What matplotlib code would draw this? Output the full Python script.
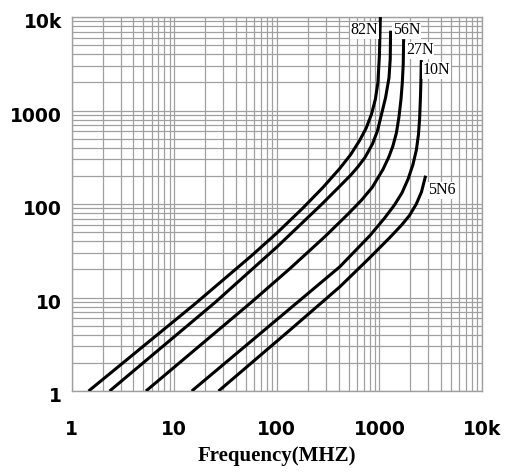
import matplotlib
matplotlib.use("Agg")
import matplotlib.pyplot as plt
from matplotlib.ticker import FixedLocator, LogLocator, NullFormatter
from matplotlib.transforms import ScaledTranslation

# Curve data (frequency MHz, impedance)
x_82n = [1.46, 15.8, 57, 100, 180, 282, 410, 525, 641, 741, 836, 912, 966, 1000, 1021]
y_82n = [1.0, 8.5, 28.2, 49, 91, 151, 240, 339, 479, 646, 912, 1318, 1995, 3981, 10000]

x_56n = [2.34, 25.1, 100, 275, 410, 525, 618, 724, 853, 955, 1069, 1148, 1239, 1274, 1285]
y_56n = [1.0, 8.9, 34.7, 100, 155, 204, 251, 316, 437, 603, 1000, 1380, 2239, 3548, 7145]

x_27n = [5.29, 57, 134, 293, 501, 668, 851, 1081, 1230, 1352, 1462, 1549, 1622, 1671, 1706, 1722]
y_27n = [1.0, 9.0, 20.4, 44.7, 79.4, 110, 151, 234, 316, 417, 575, 851, 1318, 1995, 3162, 5808]

x_10n = [14.8, 73.4, 410, 803, 1122, 1400, 1660, 1905, 2118, 2291, 2399, 2466, 2512, 2541, 2559]
y_10n = [1.0, 4.37, 21.3, 45.7, 70.8, 97.7, 132, 186, 263, 380, 550, 832, 1413, 2239, 3467]

x_5n6 = [27.0, 134, 410, 794, 1259, 1660, 1968, 2286, 2570, 2818]
y_5n6 = [1.0, 4.49, 13, 26.3, 43.7, 60.3, 75.9, 100, 135, 201]

series_names = ["82N", "56N", "27N", "10N", "5N6"]
label_x = [718, 1841, 2468, 3610, 4036]
label_y = [7190, 7190, 4400, 2690, 140]

tick_values = [1, 10, 100, 1000, 10000]
tick_labels = ["1", "10", "100", "1000", "10k"]

fig = plt.figure(figsize=(5.05, 4.74), dpi=100)
ax = fig.add_axes([0.142, 0.175, 0.8125, 0.789])
ax.set_xscale("log")
ax.set_yscale("log")
ax.set_xlim(1, 10000)
ax.set_ylim(1, 10000)

grid_color = "#a0a0a0"
ax.xaxis.set_major_locator(FixedLocator(tick_values))
ax.yaxis.set_major_locator(FixedLocator(tick_values))
ax.xaxis.set_minor_locator(LogLocator(base=10, subs=range(2, 10)))
ax.yaxis.set_minor_locator(LogLocator(base=10, subs=range(2, 10)))
ax.xaxis.set_minor_formatter(NullFormatter())
ax.yaxis.set_minor_formatter(NullFormatter())
ax.set_xticklabels(tick_labels)
ax.set_yticklabels(tick_labels)
ax.grid(True, which="both", color=grid_color, lw=0.9)
ax.tick_params(which="both", length=0)
ax.tick_params(axis="x", pad=21)
ax.tick_params(axis="y", pad=7)
for lab in ax.get_xticklabels() + ax.get_yticklabels():
    lab.set_fontweight("bold")
    lab.set_fontsize(13.5)
    lab.set_family("DejaVu Sans")
shift = ScaledTranslation(0, -2.5 / 72, fig.dpi_scale_trans)
for lab in ax.get_yticklabels():
    lab.set_transform(lab.get_transform() + shift)
for s in ax.spines.values():
    s.set_color(grid_color)
    s.set_linewidth(1.0)

for xs, ys in [(x_82n, y_82n), (x_56n, y_56n), (x_27n, y_27n), (x_10n, y_10n), (x_5n6, y_5n6)]:
    ax.plot(xs, ys, color="black", lw=2.2, solid_capstyle="butt", solid_joinstyle="round", zorder=3)

for name, lx, ly in zip(series_names, label_x, label_y):
    ax.text(lx, ly, name, family="Liberation Serif", fontsize=11.5, ha="center", va="center",
            zorder=4, bbox=dict(facecolor="white", edgecolor="none", pad=0.5))

ax.set_xlabel("Frequency(MHZ)", family="Liberation Serif", fontweight="bold", fontsize=15, labelpad=5)

fig.savefig("out.png", dpi=100)
